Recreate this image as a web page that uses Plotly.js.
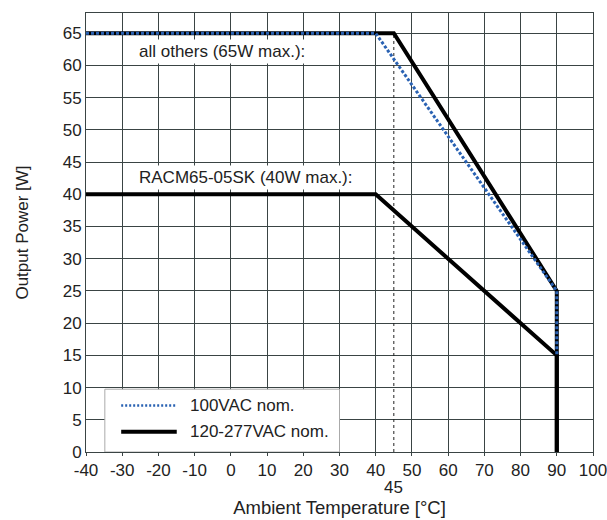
<!DOCTYPE html>
<html>
<head>
<meta charset="utf-8">
<script src="https://cdn.plot.ly/plotly-3.0.1.min.js"></script>
<style>html,body{margin:0;padding:0;background:#fff;}#chart{width:607px;height:520px;}</style>
</head>
<body>
<div id="chart"></div>
<script>
// Data
const xTicks = [-40,-30,-20,-10,0,10,20,30,40,50,60,70,80,90,100];
const yTicks = [0,5,10,15,20,25,30,35,40,45,50,55,60,65];
const others120X = [-40, 45, 90, 90];
const others120Y = [65, 65, 25, 0];
const racm120X = [-40, 40, 90, 90];
const racm120Y = [40, 40, 15, 0];
const vac100X = [-40, 40, 90, 90];
const vac100Y = [65, 65, 25, 15];
const markerX = [45, 45];
const markerY = [0, 65];
const legendNames = ['100VAC nom.', '120-277VAC nom.'];
const labelOthers = 'all others (65W max.):';
const labelRacm = 'RACM65-05SK (40W max.):';

const FONT = 'Liberation Sans, Arial, sans-serif';
const BLUE = '#2a62b3';
const GRID = '#3a4444';
const TXT = '#222';

const traces = [
  {x: markerX, y: markerY, mode: 'lines', line: {color: '#222', width: 1, dash: '3px,3px'}, showlegend: false, hoverinfo: 'skip'},
  {x: others120X, y: others120Y, mode: 'lines', line: {color: '#000', width: 4}, showlegend: false},
  {x: racm120X, y: racm120Y, mode: 'lines', line: {color: '#000', width: 4}, showlegend: false},
  {x: vac100X, y: vac100Y, mode: 'lines', line: {color: BLUE, width: 3, dash: '3px,2px'}, showlegend: false}
];

const layout = {
  width: 607, height: 520,
  margin: {l: 86, r: 14, t: 13, b: 68},
  paper_bgcolor: '#fff', plot_bgcolor: '#fff',
  font: {family: FONT, size: 17, color: TXT},
  showlegend: false,
  xaxis: {
    range: [-40, 100], tickvals: xTicks, ticktext: xTicks.map(String),
    showgrid: true, gridcolor: GRID, gridwidth: 1,
    showline: true, linecolor: GRID, linewidth: 1, mirror: true,
    ticks: 'outside', ticklen: 3, tickcolor: GRID, ticklabeloverflow: 'allow',
    zeroline: false, tickfont: {size: 17, color: TXT},
    title: {text: 'Ambient Temperature [°C]', font: {size: 18.5, color: TXT}, standoff: 21}
  },
  yaxis: {
    range: [0, 68.15], tickvals: yTicks, ticktext: yTicks.map(String),
    showgrid: true, gridcolor: GRID, gridwidth: 1,
    showline: true, linecolor: GRID, linewidth: 1, mirror: true,
    ticks: '', zeroline: false, tickfont: {size: 17, color: TXT},
    title: {text: 'Output Power [W]', font: {size: 17, color: TXT}, standoff: 29}
  },
  shapes: [
    {type: 'rect', xref: 'x', yref: 'y', x0: -34.8, x1: 30, y0: 0, y1: 9.75,
     fillcolor: '#fff', line: {color: '#aaa', width: 1}, layer: 'between'},
    {type: 'line', xref: 'paper', yref: 'paper', x0: 0.0694, x1: 0.179, y0: 0.106, y1: 0.106,
     line: {color: BLUE, width: 2.5, dash: '2px,2px'}},
    {type: 'line', xref: 'paper', yref: 'paper', x0: 0.0694, x1: 0.179, y0: 0.046, y1: 0.046,
     line: {color: '#000', width: 4}}
  ],
  annotations: [
    {x: -26.3, y: 62.1, xref: 'x', yref: 'y', text: labelOthers, showarrow: false, xanchor: 'left', yanchor: 'middle',
     bgcolor: '#fff', font: {size: 17, color: TXT}, borderpad: 2},
    {x: -26.3, y: 42.6, xref: 'x', yref: 'y', text: labelRacm, showarrow: false, xanchor: 'left', yanchor: 'middle',
     bgcolor: '#fff', font: {size: 17, color: TXT}, borderpad: 2},
    {x: 45, y: 0, xref: 'x', yref: 'y', yanchor: 'middle', yshift: -35, text: '45', showarrow: false,
     font: {size: 17, color: TXT}},
    {x: 0.202, y: 0.106, xref: 'paper', yref: 'paper', xanchor: 'left', yanchor: 'middle', text: legendNames[0], showarrow: false,
     font: {size: 17, color: TXT}},
    {x: 0.202, y: 0.046, xref: 'paper', yref: 'paper', xanchor: 'left', yanchor: 'middle', text: legendNames[1], showarrow: false,
     font: {size: 17, color: TXT}}
  ]
};

Plotly.newPlot('chart', traces, layout, {displayModeBar: false, staticPlot: true});
</script>
</body>
</html>
